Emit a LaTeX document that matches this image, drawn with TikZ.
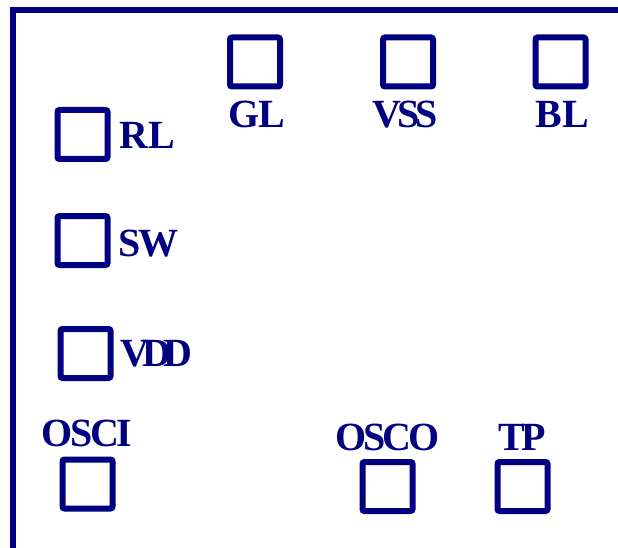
\documentclass[tikz,border=0pt]{standalone}
\usepackage{fontspec}
\setmainfont{Liberation Serif}
\definecolor{navy}{RGB}{0,0,128}
\newcommand{\tk}[1]{\kern#1pt\relax}
\begin{document}
\begin{tikzpicture}[x=1pt,y=-1pt,
  pad/.style={draw=navy,line width=6pt,rounded corners=2pt,minimum width=50pt,minimum height=49pt,inner sep=0pt},
  lbl/.style={text=navy,inner sep=0pt,anchor=base,font=\bfseries\fontsize{40}{40}\selectfont},
  frame/.style={draw=navy,line width=6pt}]
\useasboundingbox (0,0) rectangle (618,548);
% frame
\coordinate (fb) at (13,548);
\coordinate (fc) at (13,10);
\coordinate (fr) at (618,10);
\draw[frame] (fb) -- (fc) -- (fr);
% pads
\node[pad] (pGL) at (255,62) {};
\node[pad] (pVSS) at (408,62) {};
\node[pad] (pBL) at (560.5,62) {};
\node[pad] (pRL) at (82.5,134.5) {};
\node[pad] (pSW) at (82.5,240.5) {};
\node[pad] (pVDD) at (85.5,353.5) {};
\node[pad] (pOSCI) at (87.5,484) {};
\node[pad] (pOSCO) at (387.5,486.5) {};
\node[pad] (pTP) at (522.5,486.5) {};
% labels
\node[lbl] (tGL) at (256.5,128) {G\tk{-1}L};
\node[lbl] (tVSS) at (405.5,128) {V\tk{-4}S\tk{-4}S};
\node[lbl] (tBL) at (562.5,128) {BL};
\node[lbl] (tRL) at (147.5,149) {RL};
\node[lbl] (tSW) at (148.5,256) {S\tk{-2}W};
\node[lbl] (tVDD) at (156.5,366) {V\tk{-7}D\tk{-7}D};
\node[lbl] (tOSCI) at (87,446) {O\tk{-2.5}S\tk{-2.5}C\tk{-2.5}I};
\node[lbl] (tOSCO) at (387.5,450) {O\tk{-3}S\tk{-3}C\tk{-3}O};
\node[lbl] (tTP) at (522,450) {T\tk{-4}P};
\end{tikzpicture}
\end{document}
